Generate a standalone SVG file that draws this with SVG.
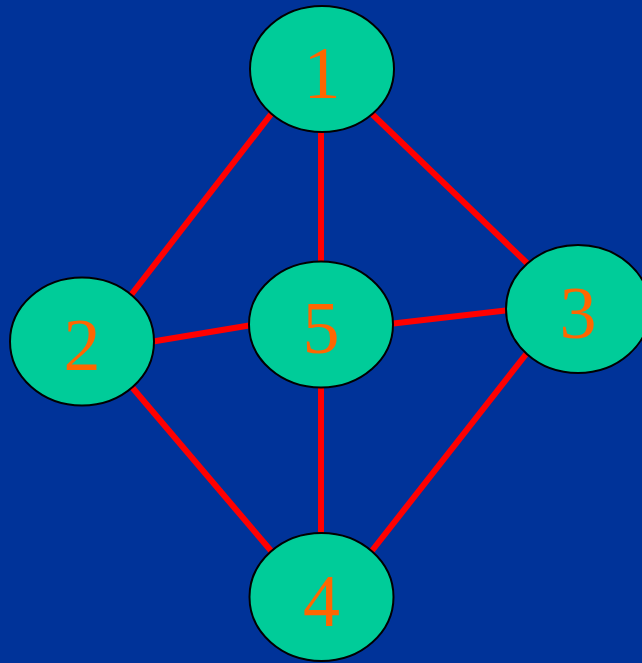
<svg xmlns="http://www.w3.org/2000/svg" width="642" height="663" viewBox="0 0 642 663">
<style>
.edge{stroke:#FF0000;stroke-width:6;fill:none}
.node ellipse{fill:#00CC99;stroke:#000;stroke-width:2}
.node text{font-family:"Liberation Serif","Times New Roman",serif;font-size:74px;fill:#FF6600;text-anchor:middle}
</style>
<rect width="642" height="663" fill="#003399"/>
<g id="edges">
<line class="edge" x1="272" y1="113" x2="131" y2="295"/>
<line class="edge" x1="371" y1="113" x2="529" y2="265"/>
<line class="edge" x1="321" y1="130" x2="321" y2="265"/>
<line class="edge" x1="150" y1="342" x2="252" y2="325"/>
<line class="edge" x1="389" y1="324" x2="510" y2="310"/>
<line class="edge" x1="131" y1="386" x2="272" y2="552"/>
<line class="edge" x1="321" y1="385" x2="321" y2="536"/>
<line class="edge" x1="527" y1="353" x2="371" y2="552"/>
</g>
<g id="node1" class="node"><ellipse cx="322" cy="69" rx="72" ry="63"/><text x="322" y="98">1</text></g>
<g id="node2" class="node"><ellipse cx="82" cy="341.5" rx="72" ry="64"/><text x="82" y="370">2</text></g>
<g id="node3" class="node"><ellipse cx="578" cy="309" rx="72" ry="64"/><text x="578" y="338">3</text></g>
<g id="node4" class="node"><ellipse cx="321.5" cy="597" rx="72" ry="64"/><text x="321.5" y="626">4</text></g>
<g id="node5" class="node"><ellipse cx="321" cy="324.5" rx="72" ry="63"/><text x="321" y="353">5</text></g>
</svg>
